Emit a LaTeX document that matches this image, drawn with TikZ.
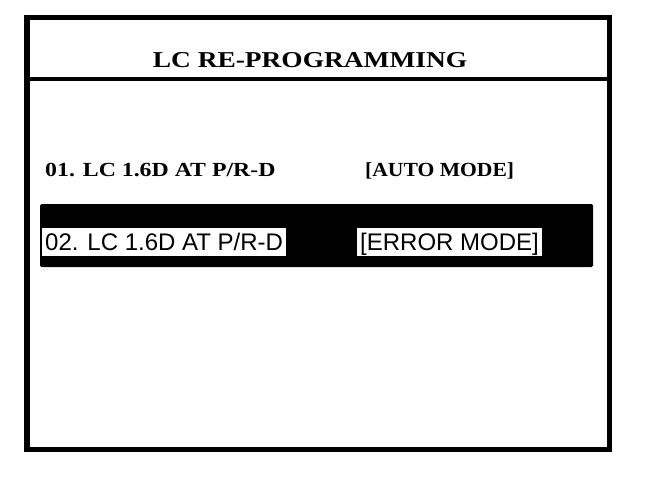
\documentclass[tikz,border=0pt]{standalone}
\usepackage{fontspec}
\setmainfont{Liberation Serif}
\newfontfamily\sansf{Liberation Sans}
\begin{document}
\begin{tikzpicture}[x=1pt,y=-1pt,
  frame/.style={draw=black,line width=5.5pt},
  sepline/.style={draw=black,line width=4.3pt},
  band/.style={fill=black,rounded corners=1.5pt},
  titletext/.style={inner sep=0pt,anchor=base,font=\fontsize{22.7}{26}\selectfont\bfseries},
  rowtext/.style={inner sep=0pt,anchor=base west,font=\fontsize{20}{24}\selectfont\bfseries},
  hilite/.style={fill=white,inner xsep=3pt,inner ysep=0pt,text height=22pt,text depth=6pt,anchor=base west,font=\sansf\fontsize{24}{28}\selectfont}
]
\useasboundingbox (0,0) rectangle (672,484);
\fill[white] (0,0) rectangle (672,484);
% outer frame
\draw[frame] (26.75,17.75) rectangle (609.25,449.25);
\coordinate (sepL) at (26.75,79);
\coordinate (sepR) at (609.25,79);
\draw[sepline] (sepL) -- (sepR);
% title
\node[titletext] (title) at (310,68) {\scalebox{1.207}[1]{LC RE-PROGRAMMING}};
% row 1
\node[rowtext] (r1a) at (45,176) {\scalebox{1.19}[1]{01. LC 1.6D AT P/R-D}};
\node[rowtext] (r1b) at (365,176) {\scalebox{1.08}[1]{[AUTO MODE]}};
% row 2 (highlighted)
\fill[band] (40,204) rectangle (593,267);
\node[hilite] (r2a) at (42,250) {02. LC 1.6D AT P/R-D};
\node[hilite] (r2b) at (357,250) {[ERROR MODE]};
\end{tikzpicture}
\end{document}
